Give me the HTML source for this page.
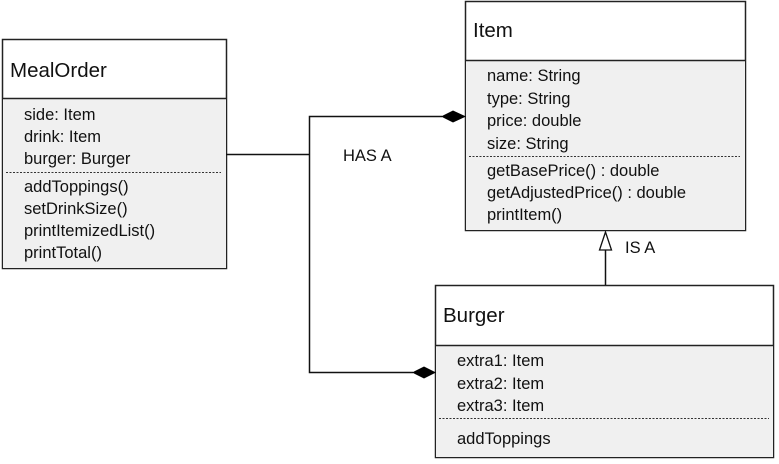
<!DOCTYPE html>
<html><head><meta charset="utf-8"><style>
html,body{margin:0;padding:0;background:#fff;}
svg{display:block;}
text{font-family:"Liberation Sans",sans-serif;fill:#111;}
.t{font-size:20.5px;}
.a{font-size:16.5px;}
</style></head><body>
<svg width="779" height="464" viewBox="0 0 779 464" xmlns="http://www.w3.org/2000/svg">
<!-- MealOrder -->
<rect x="2.5" y="39.5" width="224" height="229" fill="#fff" stroke="#222" stroke-width="1.5"/>
<rect x="3" y="98" width="223" height="170" fill="#f0f0f0"/>
<line x1="2.5" y1="98.5" x2="226.5" y2="98.5" stroke="#222" stroke-width="1.5"/>
<line x1="6" y1="172.5" x2="221" y2="172.5" stroke="#333" stroke-dasharray="2,1.5"/>
<text class="t" x="10" y="77">MealOrder</text>
<text class="a" x="24" y="120">side: Item</text>
<text class="a" x="24" y="142">drink: Item</text>
<text class="a" x="24" y="164">burger: Burger</text>
<text class="a" x="24" y="192">addToppings()</text>
<text class="a" x="24" y="214">setDrinkSize()</text>
<text class="a" x="24" y="236">printItemizedList()</text>
<text class="a" x="24" y="258">printTotal()</text>
<!-- Item -->
<rect x="465.5" y="1.5" width="280" height="229" fill="#fff" stroke="#222" stroke-width="1.5"/>
<rect x="466" y="60" width="279" height="170" fill="#f0f0f0"/>
<line x1="465.5" y1="60.5" x2="745.5" y2="60.5" stroke="#222" stroke-width="1.5"/>
<line x1="469" y1="156.5" x2="740" y2="156.5" stroke="#333" stroke-dasharray="2,1.5"/>
<text class="t" x="473" y="37">Item</text>
<text class="a" x="487" y="81">name: String</text>
<text class="a" x="487" y="104">type: String</text>
<text class="a" x="487" y="126">price: double</text>
<text class="a" x="487" y="149">size: String</text>
<text class="a" x="487" y="176">getBasePrice() : double</text>
<text class="a" x="487" y="198">getAdjustedPrice() : double</text>
<text class="a" x="487" y="220">printItem()</text>
<!-- Burger -->
<rect x="435.5" y="285.5" width="338" height="172" fill="#fff" stroke="#222" stroke-width="1.5"/>
<rect x="436" y="345" width="337" height="112" fill="#f0f0f0"/>
<line x1="435.5" y1="345.5" x2="773.5" y2="345.5" stroke="#222" stroke-width="1.5"/>
<line x1="439" y1="418.5" x2="769" y2="418.5" stroke="#333" stroke-dasharray="2,1.5"/>
<text class="t" x="443" y="322">Burger</text>
<text class="a" x="457" y="366">extra1: Item</text>
<text class="a" x="457" y="389">extra2: Item</text>
<text class="a" x="457" y="411">extra3: Item</text>
<text class="a" x="457" y="444">addToppings</text>
<!-- connectors -->
<polyline points="226,154.5 309.5,154.5" fill="none" stroke="#111" stroke-width="1.5"/>
<polyline points="442,116.5 309.5,116.5 309.5,372.5 413,372.5" fill="none" stroke="#111" stroke-width="1.5"/>
<polygon points="441,116.5 453,110.5 466,116.5 453,122.5" fill="#000"/>
<polygon points="412,372.5 424,366.5 436,372.5 424,378.5" fill="#000"/>
<line x1="605.5" y1="250" x2="605.5" y2="285" stroke="#111" stroke-width="1.5"/>
<polygon points="605.5,232 599.5,250 611.5,250" fill="#fff" stroke="#111" stroke-width="1.3"/>
<text class="a" x="343" y="161">HAS A</text>
<text class="a" x="625" y="253">IS A</text>
</svg>
</body></html>
